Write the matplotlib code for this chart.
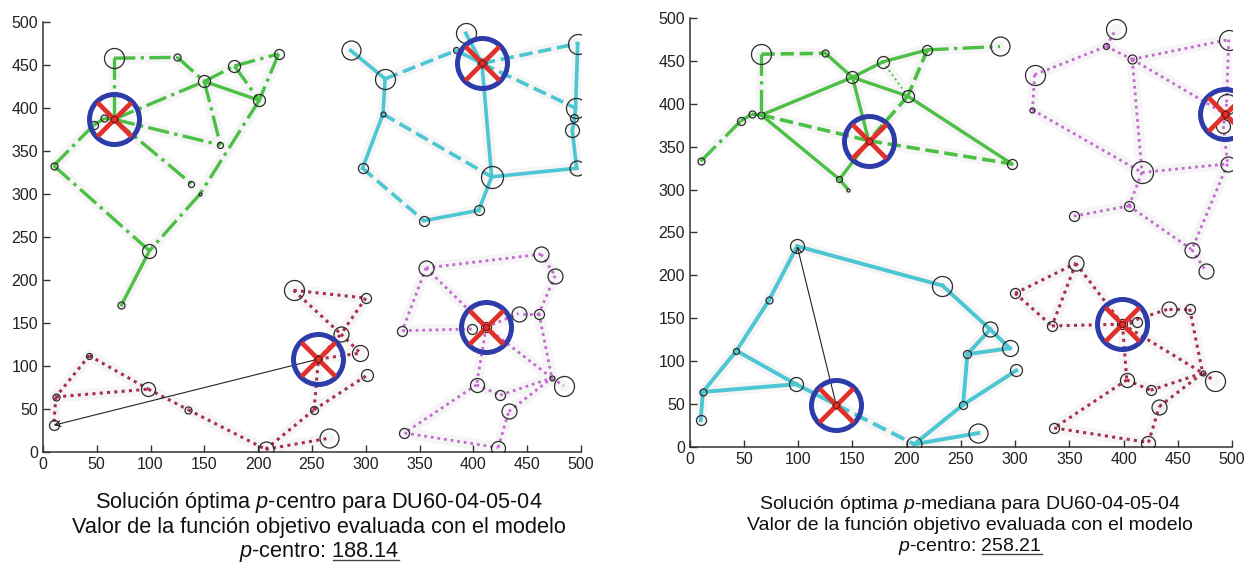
import matplotlib
matplotlib.use('Agg')
import matplotlib.pyplot as plt

plt.rcParams['font.family'] = ['Liberation Sans', 'DejaVu Sans']
plt.rcParams['mathtext.fontset'] = 'custom'
plt.rcParams['mathtext.rm'] = 'Liberation Sans'
plt.rcParams['mathtext.it'] = 'Liberation Sans:italic'

# node coordinates (same 59 visible nodes in both panels) and circle radius (px)
node_x = [66, 125, 150, 178, 219, 201, 165, 138, 146, 10, 66, 57, 47, 99, 73,
          286, 318, 316, 297, 354, 405, 417, 496, 393, 384, 408, 497, 495, 494, 492,
          233, 256, 43, 98, 12, 10, 135, 207, 252, 300, 277, 295, 301, 266,
          356, 463, 476, 442, 461, 334, 412, 399, 403, 425, 433, 484, 473, 336, 423]
node_y = [458, 459, 431, 449, 463, 409, 357, 312, 300, 333, 387, 388, 380, 234, 171,
          467, 434, 393, 330, 269, 281, 320, 330, 487, 467, 452, 475, 400, 388, 374,
          188, 108, 112, 73, 64, 31, 49, 3, 49, 179, 137, 115, 89, 16,
          214, 230, 205, 161, 161, 141, 145, 143, 78, 66, 47, 77, 86, 22, 5]
node_r = [10, 3.5, 6, 6, 5, 6, 3, 3, 1.5, 3.5, 3.5, 3.5, 4, 7, 3.5,
          9.5, 10, 2.5, 5, 5, 5, 11, 7.5, 10, 3, 4.5, 10, 10, 4, 7,
          10, 4, 3, 7, 3.5, 5, 3.5, 7.5, 4, 5, 7.5, 8, 6, 9.5,
          7.5, 7.5, 7.5, 7.5, 5, 5, 5, 5, 7, 5, 7.5, 10, 2.5, 5, 7]

# p-centro solution (1-based node indices)
pc_centers = [11, 26, 32, 51]
pc_arrow = (32, 36)
pc_green_dashdot = [(1, 2), (1, 11), (2, 3), (3, 4), (4, 5), (4, 6), (5, 6), (11, 3), (3, 7),
                    (11, 7), (6, 9), (11, 8), (10, 13), (10, 14), (9, 14), (13, 12), (12, 11)]
pc_green_solid = [(14, 15), (3, 6)]
pc_cyan_solid = [(16, 17), (17, 18), (18, 19), (20, 21), (21, 22), (22, 26), (22, 23),
                 (27, 28), (28, 29), (29, 30), (30, 23), (25, 26), (24, 26)]
pc_cyan_dashed = [(17, 25), (18, 22), (19, 20), (26, 27), (26, 28)]
pc_red_dotted = [(33, 35), (33, 34), (35, 34), (35, 36), (34, 37), (37, 38), (38, 39), (38, 44),
                 (39, 32), (39, 43), (31, 40), (31, 41), (40, 41), (32, 42), (41, 42), (32, 41)]
pc_mag_dotted = [(45, 46), (46, 47), (47, 49), (49, 48), (45, 50), (45, 51), (50, 52), (51, 48),
                 (51, 53), (51, 57), (49, 57), (53, 54), (54, 57), (53, 58), (58, 59), (59, 55),
                 (55, 57), (57, 56)]

# p-mediana solution
pm_centers = [7, 29, 37, 52]
pm_arrow = (37, 14)
pm_green_solid = [(11, 3), (11, 8), (2, 3), (3, 4), (4, 5), (3, 6), (3, 7), (7, 8), (6, 19)]
pm_green_dashed = [(1, 2), (11, 7), (5, 6), (6, 7), (7, 19)]
pm_green_dashdot = [(1, 11), (10, 13), (13, 12), (12, 11), (5, 16), (8, 9)]
pm_green_dotted = [(4, 6)]
pm_mag_dotted = [(17, 25), (17, 18), (18, 22), (25, 24), (25, 26), (26, 27), (26, 29), (26, 22),
                 (27, 28), (28, 29), (29, 30), (30, 23), (22, 23), (22, 21), (21, 20), (21, 46),
                 (23, 46), (46, 47)]
pm_red_dotted = [(40, 45), (40, 50), (45, 50), (45, 52), (50, 52), (52, 51), (52, 53), (52, 57),
                 (52, 48), (48, 49), (49, 57), (53, 54), (54, 57), (53, 58), (58, 59), (59, 55),
                 (55, 57), (57, 56)]
pm_cyan_solid = [(14, 31), (14, 15), (15, 33), (33, 35), (35, 36), (35, 34), (33, 34), (34, 37),
                 (38, 39), (38, 44), (39, 32), (39, 43), (32, 42), (32, 41), (31, 41), (41, 42)]
pm_cyan_dashed = [(37, 38)]

ticks = [0, 50, 100, 150, 200, 250, 300, 350, 400, 450, 500]

GREEN = '#4cbf45'
CYAN = '#4cc6d2'
RED = '#a8304c'
MAG = '#c46ad0'
DOT = (0, (1, 1.4))

pc_groups = [(GREEN, '-.', 2.4, pc_green_dashdot), (GREEN, '-', 2.4, pc_green_solid),
             (CYAN, '-', 2.6, pc_cyan_solid), (CYAN, '--', 2.6, pc_cyan_dashed),
             (RED, DOT, 2.2, pc_red_dotted), (MAG, DOT, 2.0, pc_mag_dotted)]
pm_groups = [(GREEN, '-', 2.4, pm_green_solid), (GREEN, '--', 2.6, pm_green_dashed),
             (GREEN, '-.', 2.4, pm_green_dashdot), (GREEN, ':', 1.4, pm_green_dotted),
             (MAG, DOT, 2.0, pm_mag_dotted), (RED, DOT, 2.2, pm_red_dotted),
             (CYAN, '-', 2.8, pm_cyan_solid), (CYAN, '--', 2.8, pm_cyan_dashed)]


def draw_panel(ax, groups, centers, arrow):
    for color, ls, lw, edges in groups:
        for i, j in edges:
            xs = [node_x[i - 1], node_x[j - 1]]
            ys = [node_y[i - 1], node_y[j - 1]]
            ax.plot(xs, ys, color='#f4f5f4', lw=8, zorder=1, solid_capstyle='round')
            ax.plot(xs, ys, color=color, ls=ls, lw=lw, zorder=2)
    for x, y, r in zip(node_x, node_y, node_r):
        ax.plot(x, y, 'o', ms=2 * r * 0.72, mfc='none', mec='#2b2b2b', mew=0.9, zorder=3)
    a, b = arrow
    ax.annotate('', xy=(node_x[b - 1], node_y[b - 1]), xytext=(node_x[a - 1], node_y[a - 1]),
                arrowprops=dict(arrowstyle='->', color='#222222', lw=0.8, shrinkA=0, shrinkB=0),
                zorder=4)
    for c in centers:
        x, y = node_x[c - 1], node_y[c - 1]
        ax.plot(x, y, 'o', ms=36, mfc='none', mec='#2e3caa', mew=3.6, zorder=5)
        ax.plot(x, y, 'x', ms=24, mec='#e0302c', mew=3.4, zorder=6)
        ax.plot(x, y, 'o', ms=4.5, mfc='#e0302c', mec='#5a1010', mew=0.6, zorder=7)

    ax.set_xlim(0, 500)
    ax.set_ylim(0, 500)
    ax.set_xticks(ticks)
    ax.set_yticks(ticks)
    for s in ['top', 'right']:
        ax.spines[s].set_visible(False)
    for s in ['left', 'bottom']:
        ax.spines[s].set_color('#333333')
        ax.spines[s].set_linewidth(1.1)
    ax.tick_params(direction='in', length=5, width=1.0, color='#333333',
                   labelsize=11.5, labelcolor='#222222')


fig = plt.figure(figsize=(12.52, 5.67), dpi=100)
ax1 = fig.add_axes([0.0343, 0.203, 0.4297, 0.758])
ax2 = fig.add_axes([0.551, 0.212, 0.433, 0.756])
draw_panel(ax1, pc_groups, pc_centers, pc_arrow)
draw_panel(ax2, pm_groups, pm_centers, pm_arrow)

cap_left = ['Solución óptima $p$-centro para DU60-04-05-04',
            'Valor de la función objetivo evaluada con el modelo',
            '$p$-centro: 188.14']
cap_right = ['Solución óptima $p$-mediana para DU60-04-05-04',
             'Valor de la función objetivo evaluada con el modelo',
             '$p$-centro: 258.21']
value_left = '188.14'
value_right = '258.21'

H = 567.0
last = []
for xc, lines, ys, fs, val in [(319, cap_left, [508, 533, 557], 15.7, value_left),
                               (970, cap_right, [509, 530, 551], 14, value_right)]:
    t = None
    for line, yp in zip(lines, ys):
        t = fig.text(xc / 1252.0, 1 - yp / H, line, ha='center', va='baseline',
                     fontsize=fs, color='#111111')
    last.append((t, val, fs, yp))

fig.canvas.draw()
r = fig.canvas.get_renderer()
for t, val, fs, yp in last:
    bb = t.get_window_extent(r)
    tmp = fig.text(0, 0, val, fontsize=fs)
    w = tmp.get_window_extent(r).width
    tmp.remove()
    x1 = bb.x1 / 1252.0
    x0 = (bb.x1 - w) / 1252.0
    yl = 1 - (yp + 2.5) / H
    fig.add_artist(plt.Line2D([x0, x1], [yl, yl], color='#444444', lw=1.0))

fig.savefig('out.png', dpi=100)
